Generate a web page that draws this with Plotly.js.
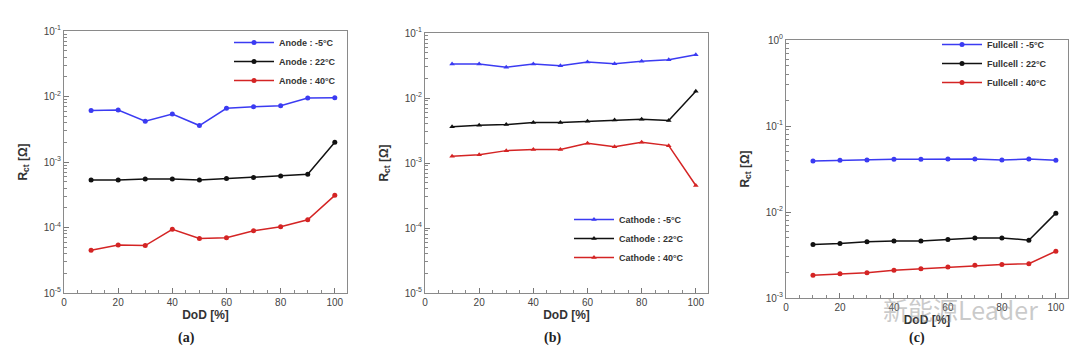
<!DOCTYPE html>
<html>
<head>
<meta charset="utf-8">
<script src="https://cdn.plot.ly/plotly-3.0.1.min.js"></script>
<style>html,body{margin:0;padding:0;background:#fff;}#chart{width:1080px;height:362px;}</style>
</head>
<body>
<div id="chart"></div>
<script>
// ---- data ----
const dod = [10, 20, 30, 40, 50, 60, 70, 80, 90, 100];

const anodeM5 = [0.0061, 0.0062, 0.0042, 0.0054, 0.0036, 0.0066, 0.0070, 0.0072, 0.0095, 0.0096];
const anode22 = [0.00053, 0.00053, 0.00055, 0.00055, 0.00053, 0.00056, 0.00058, 0.00061, 0.00065, 0.0020];
const anode40 = [4.5e-5, 5.4e-5, 5.3e-5, 9.4e-5, 6.8e-5, 7.0e-5, 8.9e-5, 1.03e-4, 1.31e-4, 3.1e-4];

const cathodeM5 = [0.0334, 0.0334, 0.0297, 0.0334, 0.0314, 0.0358, 0.0337, 0.0367, 0.0388, 0.0464];
const cathode22 = [0.0036, 0.0038, 0.0039, 0.0042, 0.0042, 0.0044, 0.0046, 0.0047, 0.0045, 0.0127];
const cathode40 = [0.00127, 0.00134, 0.00155, 0.00162, 0.00162, 0.00201, 0.00178, 0.00208, 0.00185, 0.00045];

const fullM5 = [0.0392, 0.0399, 0.0402, 0.0410, 0.0410, 0.0413, 0.0413, 0.0402, 0.0413, 0.0399];
const full22 = [0.0042, 0.0043, 0.0045, 0.0046, 0.0046, 0.0048, 0.0050, 0.0050, 0.0047, 0.0097];
const full40 = [0.00184, 0.00192, 0.00197, 0.0021, 0.00219, 0.00229, 0.0024, 0.00246, 0.00251, 0.0035];

const tempLabels = ['-5°C', '22°C', '40°C'];
const xTickVals = [0, 20, 40, 60, 80, 100];
const xTickText = ['0', '20', '40', '60', '80', '100'];
const xTitle = 'DoD [%]';
const yTitle = 'R<sub>ct</sub> [Ω]';
const panelLabels = ['(a)', '(b)', '(c)'];
const watermark = '新能源Leader';

// ---- styling ----
const colors = ['#3b3bf2', '#111111', '#d42424'];
const W = 1080, H = 362;
const FONT = 'Liberation Sans, Arial, sans-serif';

function decadeTicks(lo, hi) {
  const vals = [], text = [], minor = [];
  for (let e = lo; e <= hi; e++) {
    vals.push(Math.pow(10, e));
    text.push('10<sup>' + e + '</sup>');
    if (e < hi) for (let m = 2; m <= 9; m++) minor.push(m * Math.pow(10, e));
  }
  return {vals, text, minor};
}

function makeX(l, r, anchor) {
  return {
    domain: [l / W, r / W], anchor: anchor, range: [0, 104.5],
    tickmode: 'array', tickvals: xTickVals, ticktext: xTickText,
    ticks: 'inside', ticklen: 5, tickcolor: '#777', tickwidth: 1,
    minor: {ticks: 'inside', ticklen: 3, dtick: 5, tick0: 0, tickcolor: '#888'},
    showline: true, mirror: true, linecolor: '#8a8a8a', linewidth: 1,
    showgrid: false, zeroline: false,
    tickfont: {family: FONT, size: 10, color: '#444'},
    title: {text: xTitle, font: {family: FONT, size: 12, color: '#333', weight: 'bold'}, standoff: 1}
  };
}
function makeY(t, b, lo, hi, anchor) {
  const d = decadeTicks(lo, hi);
  return {
    domain: [1 - b / H, 1 - t / H], anchor: anchor, type: 'log',
    range: [lo, hi],
    tickmode: 'array', tickvals: d.vals, ticktext: d.text,
    ticks: 'inside', ticklen: 5, tickcolor: '#777',
    minor: {ticks: 'inside', ticklen: 3, tickmode: 'array', tickvals: d.minor, tickcolor: '#888'},
    showline: true, mirror: true, linecolor: '#8a8a8a', linewidth: 1,
    showgrid: false, zeroline: false,
    tickfont: {family: FONT, size: 10, color: '#444'},
    title: {text: yTitle, font: {family: FONT, size: 12, color: '#333', weight: 'bold'}, standoff: 13}
  };
}

const panels = [
  {name: 'Anode', series: [anodeM5, anode22, anode40], sym: 'circle', xa: 'x', ya: 'y', lg: 'legend'},
  {name: 'Cathode', series: [cathodeM5, cathode22, cathode40], sym: 'triangle-up', xa: 'x2', ya: 'y2', lg: 'legend2'},
  {name: 'Fullcell', series: [fullM5, full22, full40], sym: 'circle', xa: 'x3', ya: 'y3', lg: 'legend3'}
];

const traces = [];
panels.forEach(p => {
  p.series.forEach((s, i) => {
    traces.push({
      x: dod, y: s, type: 'scatter', mode: 'lines+markers',
      name: p.name + ' : ' + tempLabels[i],
      xaxis: p.xa, yaxis: p.ya, legend: p.lg,
      line: {color: colors[i], width: 1.5},
      marker: {color: colors[i], size: 5, symbol: p.sym}
    });
  });
});

function makeLegend(x, y) {
  return {
    x: x / W, y: 1 - y / H, xanchor: 'left', yanchor: 'top',
    bgcolor: 'rgba(0,0,0,0)', borderwidth: 0,
    font: {family: FONT, size: 9, color: '#333', weight: 'bold'},
    itemwidth: 40, tracegroupgap: 0
  };
}

const labelFont = {family: 'Liberation Serif, Times New Roman, serif', size: 14, color: '#222', weight: 'bold'};

const layout = {
  width: W, height: H,
  margin: {l: 0, r: 0, t: 0, b: 0},
  paper_bgcolor: '#fff', plot_bgcolor: '#fff',
  showlegend: true,
  xaxis: makeX(64, 347, 'y'),
  yaxis: makeY(31, 293, -5, -1, 'x'),
  xaxis2: makeX(425, 708, 'y2'),
  yaxis2: makeY(33, 293, -5, -1, 'x2'),
  xaxis3: makeX(786, 1068, 'y3'),
  yaxis3: makeY(40, 298, -3, 0, 'x3'),
  legend: makeLegend(229, 28),
  legend2: makeLegend(569, 205),
  legend3: makeLegend(937, 30),
  annotations: [
    {text: panelLabels[0], x: 186 / W, y: 1 - 338 / H, xref: 'paper', yref: 'paper', showarrow: false,
     xanchor: 'center', yanchor: 'middle', font: labelFont},
    {text: panelLabels[1], x: 552 / W, y: 1 - 338 / H, xref: 'paper', yref: 'paper', showarrow: false,
     xanchor: 'center', yanchor: 'middle', font: labelFont},
    {text: panelLabels[2], x: 917 / W, y: 1 - 338 / H, xref: 'paper', yref: 'paper', showarrow: false,
     xanchor: 'center', yanchor: 'middle', font: labelFont},
    {text: watermark, x: 960 / W, y: 1 - 309 / H, xref: 'paper', yref: 'paper', showarrow: false,
     xanchor: 'center', yanchor: 'middle',
     font: {family: 'Noto Sans CJK SC, sans-serif', size: 25, color: 'rgba(150,150,150,0.5)'}}
  ]
};

Plotly.newPlot('chart', traces, layout, {staticPlot: true, displayModeBar: false});
</script>
</body>
</html>
